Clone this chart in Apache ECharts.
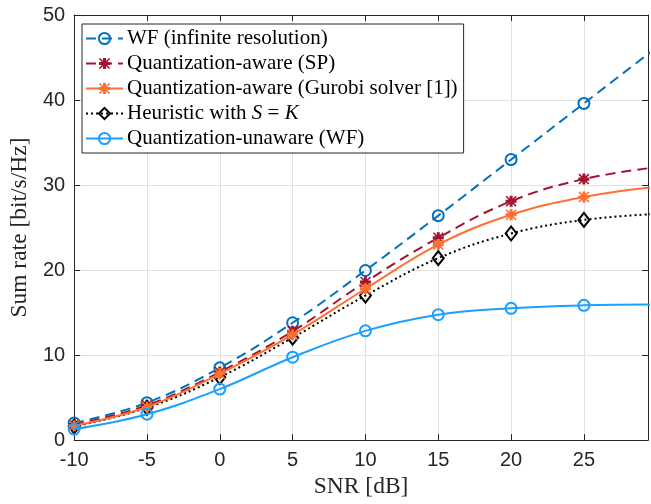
<!DOCTYPE html>
<html>
<head>
<meta charset="utf-8">
<script src="https://cdn.jsdelivr.net/npm/echarts@6/dist/echarts.min.js"></script>
<style>
html,body{margin:0;padding:0;background:#fff;}
#chart{width:651px;height:504px;}
</style>
</head>
<body>
<div id="chart"></div>
<script>
// ---- data ----
const snr = [-10, -5, 0, 5, 10, 15, 20, 25, 30];
const xTicks = [-10, -5, 0, 5, 10, 15, 20, 25];
const yTicks = [0, 10, 20, 30, 40, 50];
const seriesNames = [
  'WF (infinite resolution)',
  'Quantization-aware (SP)',
  'Quantization-aware (Gurobi solver [1])',
  'Heuristic with S = K',
  'Quantization-unaware (WF)'
];
const wfInf    = [2.0, 4.4, 8.5, 13.8, 19.95, 26.4, 33.0, 39.6, 46.2];
const qaSP     = [1.8, 4.1, 8.0, 12.8, 18.6, 23.8, 28.1, 30.7, 32.1];
const qaGurobi = [1.7, 3.9, 7.8, 12.4, 17.8, 23.0, 26.5, 28.6, 29.8];
const heurSK   = [1.6, 3.8, 7.4, 12.05, 17.0, 21.4, 24.3, 25.9, 26.6];
const qUnaware = [1.3, 3.05, 6.0, 9.75, 12.85, 14.75, 15.5, 15.85, 15.95];

// ---- chart ----
const serif = 'Liberation Serif';
const sans = 'Liberation Sans';
const axisColor = '#262626';
const gridColor = '#e2e2e2';
const asterisk = 'path://M0 3.6L10 3.6L10 6.4L0 6.4Z M3.6 0L6.4 0L6.4 10L3.6 10Z M1 0L10 9L9 10L0 1Z M9 0L10 1L1 10L0 9Z';

function pairs(ys){ return snr.map((x,i)=>[x, ys[i]]); }

function mk(name, ys, color, lineType, symbol, symbolSize, hollow, z){
  return {
    name: name,
    type: 'line',
    data: pairs(ys),
    smooth: 0.4,
    clip: true,
    z: z,
    color: color,
    symbol: symbol,
    symbolSize: symbolSize,
    showAllSymbol: true,
    lineStyle: {color: color, width: 2, type: lineType},
    itemStyle: hollow
      ? {color: 'rgba(255,255,255,0)', borderColor: color, borderWidth: 2}
      : {color: color, borderColor: color, borderWidth: 0},
    emphasis: {disabled: true}
  };
}

const chart = echarts.init(document.getElementById('chart'), null, {renderer: 'canvas'});

const hiddenLabel = {show: false};
const option = {
  animation: false,
  backgroundColor: '#ffffff',
  grid: {left: 73.5, right: 1, top: 15, bottom: 60, containLabel: false},
  legend: {
    orient: 'vertical',
    left: 82,
    top: 24,
    padding: [4, 6, 4, 3],
    itemWidth: 37,
    itemHeight: 14,
    itemGap: 4,
    backgroundColor: '#ffffff',
    borderColor: axisColor,
    borderWidth: 1,
    data: seriesNames,
    formatter: function(name){
      if (name === seriesNames[3]) return 'Heuristic with {i|S} = {i|K}';
      return name;
    },
    textStyle: {
      fontFamily: serif, fontSize: 21, color: '#000', lineHeight: 20, padding: [0,0,0,-1],
      rich: {i: {fontFamily: serif, fontSize: 21, fontStyle: 'italic', color: '#000', lineHeight: 20}}
    }
  },
  xAxis: [{
    type: 'value',
    min: -10, max: 29.4, interval: 5,
    name: 'SNR [dB]',
    nameLocation: 'middle',
    nameGap: 33,
    nameTextStyle: {fontFamily: serif, fontSize: 23.5, color: axisColor},
    axisLine: {show: true, onZero: false, lineStyle: {color: axisColor, width: 1}},
    axisTick: {show: true, inside: true, length: 6, lineStyle: {color: axisColor}},
    axisLabel: {
      fontFamily: sans, fontSize: 20, color: axisColor, margin: 10,
      formatter: function(v){ return xTicks.indexOf(v) >= 0 ? String(v) : ''; }
    },
    splitLine: {show: true, lineStyle: {color: gridColor, width: 1}}
  }, {
    type: 'value', position: 'top',
    min: -10, max: 29.4, interval: 5,
    axisLine: {show: true, onZero: false, lineStyle: {color: axisColor, width: 1}},
    axisTick: {show: true, inside: true, length: 6, lineStyle: {color: axisColor}},
    axisLabel: hiddenLabel,
    splitLine: {show: false}
  }],
  yAxis: [{
    type: 'value',
    min: 0, max: 50, interval: 10,
    name: 'Sum rate [bit/s/Hz]',
    nameLocation: 'middle',
    nameGap: 36,
    nameTextStyle: {fontFamily: serif, fontSize: 23.5, color: axisColor},
    axisLine: {show: true, onZero: false, lineStyle: {color: axisColor, width: 1}},
    axisTick: {show: true, inside: true, length: 6, lineStyle: {color: axisColor}},
    axisLabel: {
      fontFamily: sans, fontSize: 20, color: axisColor, margin: 9,
      formatter: function(v){ return yTicks.indexOf(v) >= 0 ? String(v) : ''; }
    },
    splitLine: {show: true, lineStyle: {color: gridColor, width: 1}}
  }, {
    type: 'value', position: 'right',
    min: 0, max: 50, interval: 10,
    axisLine: {show: true, onZero: false, lineStyle: {color: axisColor, width: 1}},
    axisTick: {show: true, inside: true, length: 6, lineStyle: {color: axisColor}},
    axisLabel: hiddenLabel,
    splitLine: {show: false}
  }],
  series: [
    mk(seriesNames[0], wfInf,    '#0072BD', [10, 6], 'circle', 11, true, 2),
    mk(seriesNames[1], qaSP,     '#A2142F', [10, 6], asterisk, 11, false, 3),
    mk(seriesNames[2], qaGurobi, '#FF7030', 'solid', asterisk, 11, false, 5),
    mk(seriesNames[3], heurSK,   '#000000', [2, 3], 'diamond', [11, 14], true, 4),
    mk(seriesNames[4], qUnaware, '#1AA0FF', 'solid', 'circle', 11, true, 6)
  ]
};
chart.setOption(option);
</script>
</body>
</html>
